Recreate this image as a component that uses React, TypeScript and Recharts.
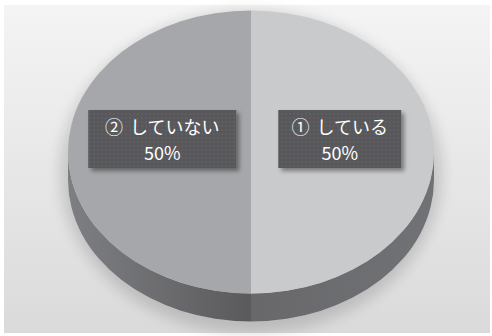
import React from 'react';
import { PieChart, Pie, Cell } from 'recharts';

// chart values
const categories = ['① している', '② していない'];
const values = [50, 50];

const data = categories.map((name, i) => ({ name, value: values[i] }));

// look of the 3D disc
const TOP_COLORS = ['#c9cacc', '#a6a7aa'];
const SIDE_GRADIENTS = ['sideRight', 'sideLeft'];
const TILT = 0.773; // vertical squash of the disc
const DEPTH = 28; // thickness of the disc edge
const LABEL_R = 0.485;
const LABEL_LIFT = 13;
const RAD = Math.PI / 180;

function pt(cx: number, cy: number, rx: number, ry: number, a: number, dy = 0) {
  const x = cx + rx * Math.cos(-a * RAD);
  const y = cy + ry * Math.sin(-a * RAD) + dy;
  return `${x.toFixed(2)},${y.toFixed(2)}`;
}

function Slice3D(props: any) {
  const { cx, cy, outerRadius, startAngle, endAngle, fill, index } = props;
  const rx = outerRadius;
  const ry = outerRadius * TILT;
  const lo = Math.min(startAngle, endAngle);
  const hi = Math.max(startAngle, endAngle);
  const large = hi - lo > 180 ? 1 : 0;
  const sweep = startAngle > endAngle ? 1 : 0;
  const top = `M${cx},${cy} L${pt(cx, cy, rx, ry, startAngle)} A${rx},${ry} 0 ${large} ${sweep} ${pt(cx, cy, rx, ry, endAngle)} Z`;

  // parts of the slice that face the viewer (lower half of the ellipse)
  const sides: string[] = [];
  for (let k = -2; k <= 1; k++) {
    const s = Math.max(lo, -180 + 360 * k);
    const e = Math.min(hi, 360 * k);
    if (e - s > 0.01) {
      sides.push(
        `M${pt(cx, cy, rx, ry, e)} A${rx},${ry} 0 0 1 ${pt(cx, cy, rx, ry, s)} ` +
          `L${pt(cx, cy, rx, ry, s, DEPTH)} A${rx},${ry} 0 0 0 ${pt(cx, cy, rx, ry, e, DEPTH)} Z`
      );
    }
  }

  return (
    <g>
      {index === 0 && (
        <ellipse
          cx={cx}
          cy={cy + DEPTH / 2 + 6}
          rx={rx + 8}
          ry={ry + DEPTH / 2 + 6}
          fill="#000"
          opacity={0.14}
          filter="url(#halo)"
        />
      )}
      {sides.map((d, i) => (
        <path key={i} d={d} fill={`url(#${SIDE_GRADIENTS[index]})`} />
      ))}
      <path d={top} fill={fill} />
    </g>
  );
}

function renderLabel(props: any) {
  const { cx, cy, midAngle, outerRadius, percent } = props;
  const name = String(props.payload?.name ?? props.name);
  const [mark, ...rest] = name.split(' ');
  const x = cx + outerRadius * LABEL_R * Math.cos(-midAngle * RAD);
  const y = cy - LABEL_LIFT;
  const chars = Array.from(name).filter((c) => c !== ' ').length;
  const w = chars * 25 - 2;
  const h = 58;
  const font = "'Noto Sans CJK JP', 'Noto Sans', sans-serif";
  return (
    <g>
      <rect
        x={x - w / 2}
        y={y - h / 2}
        width={w}
        height={h}
        fill="url(#dots)"
        filter="url(#boxShadow)"
      />
      <text
        x={x}
        y={y - 13}
        textAnchor="middle"
        dominantBaseline="central"
        fill="#ffffff"
        fontSize={18}
        fontFamily={font}
      >
        <tspan>{mark}</tspan>
        <tspan dx={7}>{rest.join(' ')}</tspan>
      </text>
      <text
        x={x}
        y={y + 13}
        textAnchor="middle"
        dominantBaseline="central"
        fill="#ffffff"
        fontSize={18}
        fontFamily={font}
      >
        {`${Math.round(percent * 100)}%`}
      </text>
    </g>
  );
}

export default function App() {
  return (
    <div
      style={{
        position: 'absolute',
        left: 0,
        top: 0,
        width: 492,
        height: 336,
        background: '#ffffff',
        overflow: 'hidden',
      }}
    >
      <svg width={0} height={0} style={{ position: 'absolute' }}>
        <defs>
          <linearGradient id="sideLeft" x1="0" y1="0" x2="1" y2="0">
            <stop offset="0%" stopColor="#7e7f82" />
            <stop offset="100%" stopColor="#5a5a5d" />
          </linearGradient>
          <linearGradient id="sideRight" x1="0" y1="0" x2="1" y2="0">
            <stop offset="0%" stopColor="#68686b" />
            <stop offset="100%" stopColor="#717275" />
          </linearGradient>
          <pattern id="dots" width={4} height={4} patternUnits="userSpaceOnUse">
            <rect width={4} height={4} fill="#59595b" />
            <circle cx={2} cy={2} r={0.7} fill="#68686a" />
          </pattern>
          <filter id="boxShadow" x="-20%" y="-30%" width="150%" height="170%">
            <feDropShadow dx={3} dy={3} stdDeviation={2} floodColor="#000" floodOpacity={0.4} />
          </filter>
          <filter id="halo" x="-20%" y="-20%" width="140%" height="140%">
            <feGaussianBlur stdDeviation={7} />
          </filter>
        </defs>
      </svg>
      <div
        style={{
          position: 'absolute',
          left: 4,
          top: 5,
          width: 486,
          height: 328,
          background: 'linear-gradient(180deg, #f4f4f4 0%, #e6e6e7 55%, #dadadb 100%)',
        }}
      />
      <div style={{ position: 'absolute', left: 0, top: 0 }}>
        <PieChart width={492} height={336} margin={{ top: 0, right: 0, bottom: 0, left: 0 }}>
          <Pie
            data={data}
            dataKey="value"
            nameKey="name"
            cx={251}
            cy={152}
            outerRadius={183}
            startAngle={90}
            endAngle={-270}
            stroke="none"
            shape={Slice3D}
            label={renderLabel}
            labelLine={false}
            isAnimationActive={false}
          >
            {data.map((entry, i) => (
              <Cell key={entry.name} fill={TOP_COLORS[i]} />
            ))}
          </Pie>
        </PieChart>
      </div>
    </div>
  );
}
